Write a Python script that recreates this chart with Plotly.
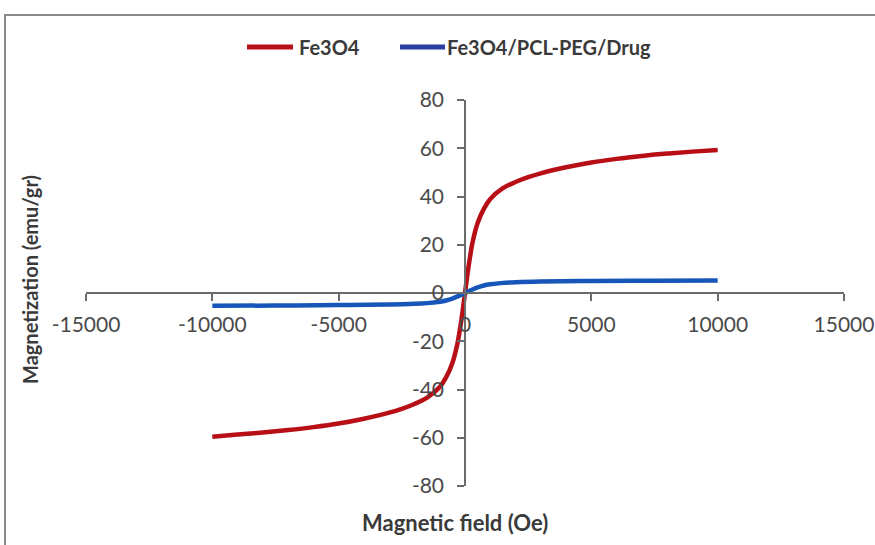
import plotly.graph_objects as go

# Fe3O4 magnetization curve (Oe, emu/gr)
fe_h = [-10000, -9000, -8000, -7000, -6000, -5000, -4000, -3000, -2500, -2000, -1500, -1000, -750, -500, -300, -200, -100, 0,
        100, 200, 300, 500, 750, 1000, 1500, 2000, 2500, 3000, 4000, 5000, 6000, 7000, 8000, 9000, 10000]
fe_m = [-59.6, -58.7, -57.8, -56.8, -55.6, -54.1, -52.1, -49.6, -48.0, -46.0, -43.4, -39.0, -35.0, -29.0, -21.0, -15.0, -8.0, 0.0,
        8.0, 15.0, 21.0, 29.0, 35.0, 39.0, 43.5, 46.0, 48.0, 49.6, 52.1, 54.1, 55.6, 56.8, 57.8, 58.6, 59.3]

# Fe3O4/PCL-PEG/Drug magnetization curve
dr_h = [-10000, -7500, -5000, -3000, -2000, -1500, -1000, -750, -500, -250, 0,
        250, 500, 750, 1000, 1500, 2000, 3000, 5000, 7500, 10000]
dr_m = [-5.3, -5.2, -5.0, -4.8, -4.5, -4.2, -3.6, -3.1, -2.3, -1.2, 0.0,
        1.2, 2.3, 3.1, 3.6, 4.2, 4.5, 4.8, 5.0, 5.1, 5.2]

x_ticks = [-15000, -10000, -5000, 0, 5000, 10000, 15000]
y_ticks = [-80, -60, -40, -20, 0, 20, 40, 60, 80]

series_names = ["Fe3O4", "Fe3O4/PCL-PEG/Drug"]
series_colors = ["#B80F16", "#1656B8"]
legend_colors = ["#B80F16", "#2A3FA0"]

# plot-area geometry (pixels) used to convert to paper coords
L, R, T, B = 86, 844, 100, 486
def px(x):
    return (x - L) / (R - L)
def py(y):
    return (B - y) / (B - T)

fig = go.Figure()
fig.add_trace(go.Scatter(x=fe_h, y=fe_m, mode="lines", name=series_names[0],
                         line=dict(color=series_colors[0], width=4.5, shape="spline")))
fig.add_trace(go.Scatter(x=dr_h, y=dr_m, mode="lines", name=series_names[1],
                         line=dict(color=series_colors[1], width=4.5, shape="spline")))

axis_col = "#6b6b6b"
tick_font = dict(family="Lato", size=21, color="#4a4a4a")
title_font_x = dict(family="Lato", size=22, color="#3a3a3a", weight="bold")
title_font_y = dict(family="Lato", size=20, color="#3a3a3a", weight="bold")
legend_font = dict(family="Lato", size=20, color="#3a3a3a", weight="bold")

# manual legend (line sample + label)
legend_items = [(247, 293, 297), (400, 445, 445)]
shapes = [
    dict(type="rect", xref="paper", yref="paper",
         x0=px(5), x1=1.2, y0=-0.4, y1=py(15),
         line=dict(color="#8a8a8a", width=2), layer="below"),
]
annotations = [
    dict(text="Magnetic field (Oe)", xref="paper", yref="paper",
         x=px(455), y=py(522), xanchor="center", yanchor="middle",
         showarrow=False, font=title_font_x),
    dict(text="Magnetization (emu/gr)", xref="paper", yref="paper",
         x=px(30), y=py(280), xanchor="center", yanchor="middle",
         textangle=-90, showarrow=False, font=title_font_y),
]
for (x0, x1, xt), name, col in zip(legend_items, series_names, legend_colors):
    shapes.append(dict(type="line", xref="paper", yref="paper",
                       x0=px(x0), x1=px(x1), y0=py(47), y1=py(47),
                       line=dict(color=col, width=5)))
    annotations.append(dict(text=name, xref="paper", yref="paper",
                            x=px(xt), y=py(47), xanchor="left", yanchor="middle",
                            showarrow=False, font=legend_font))

fig.update_layout(
    width=875, height=545,
    margin=dict(l=L, r=875 - R, t=T, b=545 - B, autoexpand=False),
    paper_bgcolor="white", plot_bgcolor="white",
    showlegend=False,
    xaxis=dict(range=[-15000, 15000], tickvals=x_ticks, ticktext=[str(v) for v in x_ticks],
               showgrid=False, zeroline=False, showline=True, linecolor=axis_col, linewidth=1.5,
               ticks="outside", ticklen=7, tickcolor=axis_col, tickwidth=1.5,
               ticklabelstandoff=6,
               tickfont=tick_font, anchor="free", position=0.5, fixedrange=True, automargin=False),
    yaxis=dict(range=[-80, 80], tickvals=y_ticks, ticktext=[str(v) for v in y_ticks],
               showgrid=False, zeroline=False, showline=True, linecolor=axis_col, linewidth=1.5,
               ticks="outside", ticklen=7, tickcolor=axis_col, tickwidth=1.5,
               ticklabelstandoff=9,
               tickfont=tick_font, anchor="free", position=0.5, fixedrange=True, automargin=False),
    annotations=annotations,
    shapes=shapes,
)

fig.write_html("out.html")
